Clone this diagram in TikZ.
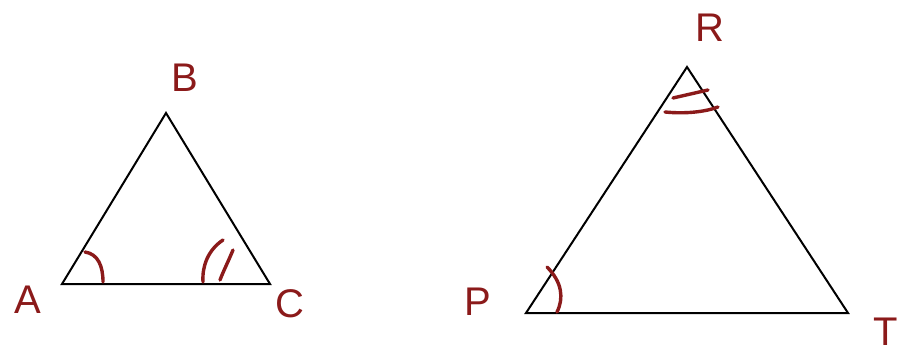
\documentclass[tikz,border=0pt]{standalone}
\usepackage{fontspec}
\setmainfont{Liberation Sans}
\definecolor{ink}{HTML}{8B1A1A}
\begin{document}
\begin{tikzpicture}[x=1pt,y=-1pt,
  edge/.style={draw=black,line width=2pt,line join=miter},
  anglemark/.style={draw=ink,line width=3.4pt,line cap=round},
  lbl/.style={text=ink,font=\fontsize{40}{40}\selectfont,inner sep=0pt}]
\useasboundingbox (0,0) rectangle (909,355);
% vertices
\coordinate (A) at (62,284);
\coordinate (B) at (166,113);
\coordinate (C) at (270,284);
\coordinate (P) at (526,313);
\coordinate (R) at (687,67);
\coordinate (T) at (848,313);
\draw[edge] (A) -- (B) -- (C) -- cycle;
\draw[edge] (P) -- (R) -- (T) -- cycle;
% labels
\node[lbl] (lA) at (28,300) {A};
\node[lbl] (lB) at (185,78) {B};
\node[lbl] (lC) at (290,304) {C};
\node[lbl] (lR) at (710,28) {R};
\node[lbl] (lP) at (478,302) {P};
\node[lbl] (lT) at (886,332) {T};
% angle marks
\draw[anglemark] (85,252) .. controls (98,254) and (103,266) .. (103,282);
\draw[anglemark] (223,240) .. controls (208,250) and (202,266) .. (203,282);
\draw[anglemark] (233,250) .. controls (228,262) and (223,272) .. (220,280);
\draw[anglemark] (547,267) .. controls (562,282) and (564,298) .. (557,312);
\draw[anglemark] (673,98) -- (708,90);
\draw[anglemark] (665,112) .. controls (685,114) and (705,112) .. (718,107);
\end{tikzpicture}
\end{document}
